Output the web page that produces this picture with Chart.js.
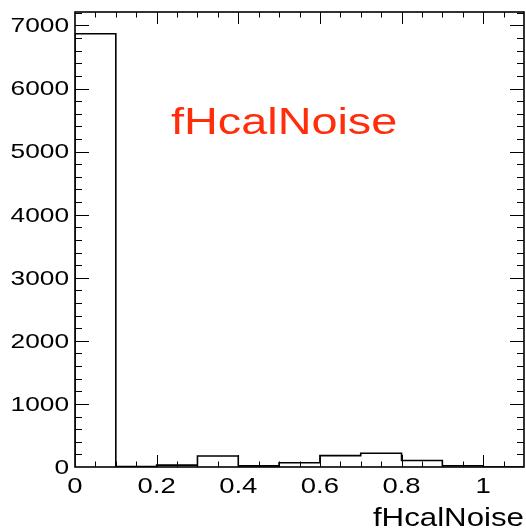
<!DOCTYPE html>
<html>
<head>
<meta charset="utf-8">
<script src="https://cdn.jsdelivr.net/npm/chart.js@4"></script>
<style>
  html, body { margin: 0; padding: 0; background: #ffffff; }
  #c { display: block; }
</style>
</head>
<body>
<canvas id="c" width="526" height="532"></canvas>
<script>
// ---- data ----
const binEdges = [0, 0.1, 0.2, 0.3, 0.4, 0.5, 0.6, 0.7, 0.8, 0.9, 1.0, 1.1];
const counts   = [6870, 8, 30, 175, 18, 68, 180, 218, 103, 20, 0];
const xTickValues = [0, 0.2, 0.4, 0.6, 0.8, 1.0];
const xTickLabels = ['0', '0.2', '0.4', '0.6', '0.8', '1'];
const yTickValues = [0, 1000, 2000, 3000, 4000, 5000, 6000, 7000];
const yTickLabels = ['0', '1000', '2000', '3000', '4000', '5000', '6000', '7000'];
const xTitle = 'fHcalNoise';
const histTitle = 'fHcalNoise';

// step points: start at the baseline, each bin's low edge with its count, then the final upper edge
const stepPoints = [{ x: binEdges[0], y: 0 }];
counts.forEach((c, i) => stepPoints.push({ x: binEdges[i + 1], y: c }));

const FONT = '"Liberation Sans", Arial, Helvetica, sans-serif';
const SX = 1.25; // horizontal stretch of the reference text

function stretchedText(ctx, text, x, y, size, align, baseline, color, sx) {
  ctx.save();
  ctx.font = size + 'px ' + FONT;
  ctx.fillStyle = color;
  ctx.textAlign = align;
  ctx.textBaseline = baseline;
  ctx.translate(x, y);
  ctx.scale(sx, 1);
  ctx.fillText(text, 0, 0);
  ctx.restore();
}

const rootAxes = {
  id: 'rootAxes',
  afterDraw(chart) {
    const ctx = chart.ctx;
    const a = chart.chartArea;
    const xs = chart.scales.x, ys = chart.scales.y;

    ctx.save();
    ctx.strokeStyle = '#000';
    ctx.lineWidth = 1;
    ctx.beginPath();
    for (let k = 0; k <= 22; k++) {
      const v = k * 0.05;
      const px = Math.round(xs.getPixelForValue(v)) + 0.5;
      if (px < a.left + 1 || px > a.right - 1) continue;
      const major = (k % 4 === 0);
      const len = major ? 12 : 5.5;
      ctx.moveTo(px, a.bottom); ctx.lineTo(px, a.bottom - len);
      ctx.moveTo(px, a.top); ctx.lineTo(px, a.top + len);
    }
    for (let k = 0; k <= 36; k++) {
      const v = k * 200;
      if (v > ys.max) break;
      const py = Math.round(ys.getPixelForValue(v)) + 0.5;
      if (py < a.top || py > a.bottom - 1) continue;
      const major = (k % 5 === 0);
      const len = major ? 14 : 7;
      ctx.moveTo(a.left, py); ctx.lineTo(a.left + len, py);
      ctx.moveTo(a.right, py); ctx.lineTo(a.right - len, py);
    }
    ctx.stroke();

    ctx.lineWidth = 1.6;
    ctx.strokeRect(a.left, a.top, a.right - a.left, a.bottom - a.top);
    ctx.restore();

    yTickValues.forEach((v, i) => {
      const py = ys.getPixelForValue(v);
      stretchedText(ctx, yTickLabels[i], a.left - 6, py + 1, 21, 'right', 'middle', '#000', SX);
    });
    xTickValues.forEach((v, i) => {
      const px = xs.getPixelForValue(v);
      stretchedText(ctx, xTickLabels[i], px, a.bottom + 26, 22, 'center', 'alphabetic', '#000', SX);
    });
    stretchedText(ctx, xTitle, a.right, 526, 25, 'right', 'alphabetic', '#000', SX);
    stretchedText(ctx, histTitle, 171, 134, 36, 'left', 'alphabetic', 'rgb(255,45,10)', 1.3);
  }
};

new Chart(document.getElementById('c'), {
  type: 'line',
  data: {
    datasets: [{
      data: stepPoints,
      stepped: 'after',
      borderColor: '#000',
      borderWidth: 1.6,
      pointRadius: 0,
      fill: false,
      tension: 0
    }]
  },
  options: {
    responsive: false,
    animation: false,
    devicePixelRatio: 1,
    layout: { padding: { left: 75, right: 2, top: 12, bottom: 65 } },
    plugins: { legend: { display: false }, tooltip: { enabled: false }, title: { display: false } },
    scales: {
      x: { type: 'linear', min: 0, max: 1.1, display: false },
      y: { type: 'linear', min: 0, max: 7214, display: false }
    }
  },
  plugins: [rootAxes]
});
</script>
</body>
</html>
